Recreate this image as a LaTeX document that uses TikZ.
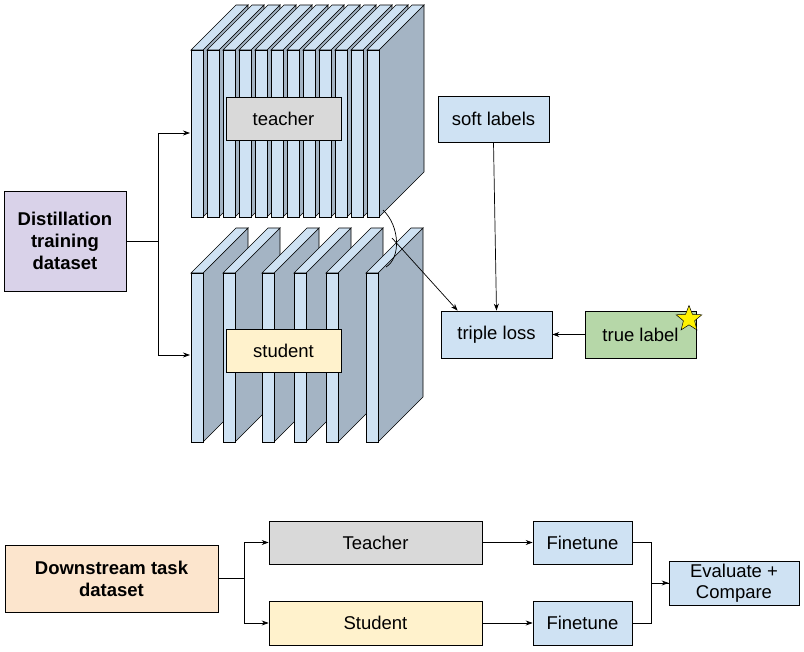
\documentclass[tikz,border=0pt]{standalone}
\usepackage{fontspec}
\setmainfont{Liberation Sans}
\usetikzlibrary{arrows.meta,shapes.geometric}
\definecolor{slabfront}{RGB}{207,226,243}
\definecolor{slabside}{RGB}{164,180,196}
\definecolor{lavender}{RGB}{217,210,233}
\definecolor{peach}{RGB}{252,229,205}
\definecolor{lightgray}{RGB}{217,217,217}
\definecolor{lightyellow}{RGB}{255,242,204}
\definecolor{lightblue}{RGB}{207,226,243}
\definecolor{lightgreen}{RGB}{182,215,168}
% one slab of a network: x of front, top y, bottom y
\newcommand{\slab}[3]{%
  \draw[fill=slabside] (#1+12,#2) -- (#1+57,#2-45) -- (#1+57,#3-45) -- (#1+12,#3) -- cycle;
  \draw[fill=slabfront] (#1,#2) -- (#1+45,#2-45) -- (#1+57,#2-45) -- (#1+12,#2) -- cycle;
  \draw[fill=slabfront] (#1,#2) rectangle (#1+12,#3);
}
\begin{document}
\begin{tikzpicture}[x=1pt, y=-1pt, line width=0.7pt, >={Stealth[length=7pt,width=5pt]},
    box/.style={draw, inner sep=0pt, align=center, font=\fontsize{18.5}{22}\selectfont}]
  \useasboundingbox (0,0) rectangle (804,652);

  % Teacher network
  \foreach \i in {0,...,11} {\slab{191+\i*16}{50}{217}}
  \node[box, fill=lightgray, minimum width=115pt, minimum height=43pt] (teacher) at (283.5,118.5) {teacher};

  % Student network
  \foreach \x in {191,223,262,294,326,366} {\slab{\x}{273}{442}}
  \node[box, fill=lightyellow, minimum width=115pt, minimum height=43pt] (student) at (283.5,350.5) {student};

  % Distillation side
  \node[box, fill=lavender, minimum width=122pt, minimum height=100pt] (distill) at (65,241)
    {\bfseries Distillation\\\bfseries training\\\bfseries dataset};
  \coordinate (tin) at (190,133);
  \coordinate (sin) at (190,355);
  \draw[->] (distill.east) -- ++(32,0) |- (tin);
  \draw[->] (distill.east) -- ++(32,0) |- (sin);

  \node[box, fill=lightblue, minimum width=111pt, minimum height=46pt] (soft) at (493.5,119) {soft labels};
  \node[box, fill=lightblue, minimum width=111pt, minimum height=47pt] (triple) at (496.5,334.5) {triple loss};
  \node[box, fill=lightgreen, minimum width=111pt, minimum height=47pt] (truelabel) at (640.5,334.5) {true label};
  \node[star, star points=5, star point ratio=2.3, draw, line width=0.5pt, fill=yellow,
    minimum size=27pt, inner sep=0pt] (star) at (689,319) {};

  \draw[->] (soft.south) -- (triple.north);
  \draw[->] (truelabel.west) -- (triple.east);

  % bracket joining the two outputs
  \coordinate (tout) at (383,210);
  \coordinate (sout) at (386,267);
  \coordinate (join) at (392,238);
  \draw (tout) .. controls (400,226) and (401,258) .. (sout);
  \draw[->] (join) -- ([xshift=17pt]triple.north west);

  % Downstream evaluation
  \node[box, fill=peach, minimum width=213pt, minimum height=67pt] (down) at (111.5,578.5)
    {\bfseries Downstream task\\\bfseries dataset};
  \node[box, fill=lightgray, minimum width=213pt, minimum height=43pt] (teach) at (375.5,542.5) {Teacher};
  \node[box, fill=lightyellow, minimum width=213pt, minimum height=44pt] (stud) at (375.5,623) {Student};
  \node[box, fill=lightblue, minimum width=99pt, minimum height=43pt] (ftone) at (582.5,542.5) {Finetune};
  \node[box, fill=lightblue, minimum width=99pt, minimum height=44pt] (fttwo) at (582.5,623) {Finetune};
  \node[box, fill=lightblue, minimum width=130pt, minimum height=44pt,
    font=\fontsize{18.5}{21}\selectfont] (eval) at (734,583) {Evaluate +\\Compare};

  \draw[->] (down.east) -- ++(26,0) |- (teach.west);
  \draw[->] (down.east) -- ++(26,0) |- (stud.west);
  \draw[->] (teach) -- (ftone);
  \draw[->] (stud) -- (fttwo);
  \draw[->] (ftone.east) -- ++(19,0) |- (eval.west);
  \draw (fttwo.east) -- ++(19,0) |- (eval.west);
\end{tikzpicture}
\end{document}
